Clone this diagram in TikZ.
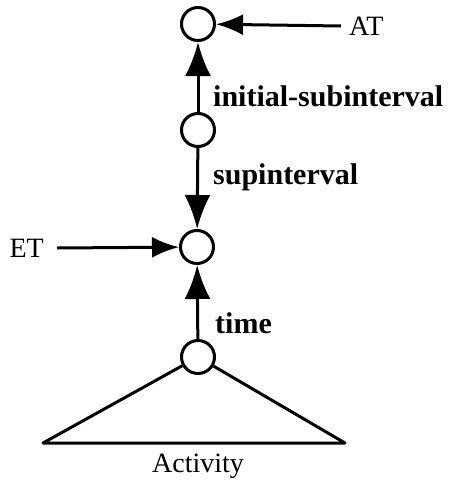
\documentclass[tikz,border=0pt]{standalone}
\usepackage{fontspec}
\setmainfont{Liberation Serif}
\usepackage{tikz}
\usetikzlibrary{arrows.meta,positioning}

\begin{document}
\begin{tikzpicture}[
  x=1pt,y=-1pt,
  font=\fontsize{28}{30}\selectfont,
  slot/.style={circle,draw,line width=3pt,minimum size=33pt,inner sep=0pt},
  rel/.style={font=\fontsize{30}{32}\selectfont\bfseries,anchor=west,inner sep=0pt},
  link/.style={-{Latex[length=34pt,width=26pt]},line width=3pt},
  feed/.style={-{Latex[length=27pt,width=21pt]},line width=3pt}
]
  \useasboundingbox (0,0) rectangle (454,482);

  \node[slot] (top) at (198,24) {};
  \node[slot] (mid) at (198,130) {};
  \node[slot] (et) at (197,247) {};
  \node[slot] (act) at (198,357) {};

  \node[anchor=west,inner sep=0pt] (atlab) at (349,26) {AT};
  \node[anchor=east,inner sep=0pt] (etlab) at (44,248) {ET};
  \node[inner sep=0pt] (actlab) at (198,466) {Activity};

  \coordinate (baseL) at (43,443);
  \coordinate (baseR) at (345,443);

  \draw[link] (mid) -- (top);
  \node[rel] (lab1) at (213,96) {initial-subinterval};
  \draw[link] (mid) -- (et);
  \node[rel] (lab2) at (213,177) {supinterval};
  \draw[link] (act) -- (et);
  \node[rel] (lab3) at (215,323) {time};
  \draw[feed] ([xshift=-8pt]atlab.west) -- (top);
  \draw[feed] ([xshift=13pt]etlab.east) -- (et);

  \draw[line width=3pt,line join=round] (act) -- (baseL) -- (baseR) -- (act);
\end{tikzpicture}
\end{document}
